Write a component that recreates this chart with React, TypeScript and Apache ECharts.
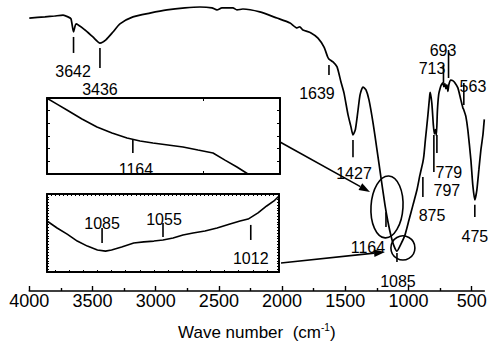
import React, { useEffect, useRef } from "react";
import * as echarts from "echarts";

const FONT = "'Liberation Sans', Arial, sans-serif";

// Main FTIR spectrum: wavenumber (cm-1) and transmittance (a.u.)
const mainWn = [4000, 3876, 3800, 3733, 3694, 3670, 3650, 3630, 3559, 3497, 3441, 3394, 3338, 3283, 3180, 3046, 2911, 2769, 2650, 2555, 2515, 2476, 2389, 2357, 2310, 2176, 2041, 1937, 1882, 1860, 1835, 1771, 1716, 1668, 1640, 1629, 1597, 1565, 1534, 1510, 1478, 1455, 1439, 1420, 1399, 1383, 1360, 1336, 1312, 1280, 1249, 1217, 1186, 1162, 1138, 1115, 1091, 1059, 1028, 996, 964, 933, 909, 886, 878, 866, 846, 831, 828, 815, 803, 795, 787, 779, 771, 761, 751, 740, 728, 720, 712, 704, 696, 688, 680, 665, 650, 633, 609, 585, 570, 562, 546, 530, 506, 491, 475, 459, 443, 427, 411, 404, 400];
const mainT = [93.8, 94.2, 94.5, 94.8, 94.2, 93.5, 89.0, 91.8, 89.7, 87.3, 85.2, 86.3, 89.0, 91.8, 94.2, 95.5, 96.6, 97.3, 97.6, 97.3, 96.6, 97.3, 97.3, 96.6, 96.9, 95.9, 93.8, 92.1, 90.4, 90.8, 89.7, 88.7, 86.9, 83.8, 80.5, 79.7, 78.7, 77.0, 71.8, 68.0, 60.5, 56.4, 53.6, 55.5, 62.2, 67.4, 70.1, 69.1, 65.6, 57.7, 48.5, 38.8, 29.6, 23.7, 18.9, 15.5, 13.7, 16.2, 19.2, 24.4, 29.6, 34.7, 39.9, 44.3, 46.5, 52.0, 60.5, 67.6, 68.3, 64.5, 57.0, 54.0, 55.5, 53.5, 62.0, 67.5, 69.4, 70.8, 71.5, 70.2, 71.3, 69.5, 70.8, 68.6, 71.0, 72.5, 72.3, 71.6, 69.8, 65.6, 63.0, 62.2, 60.0, 55.3, 45.0, 36.4, 31.3, 34.7, 41.6, 48.5, 53.6, 57.0, 59.0];

// Inset 1 (around 1164 cm-1)
const inset1Wn = [1220, 1213.5, 1207, 1197.2, 1187.4, 1177.6, 1167.8, 1159.3, 1150.9, 1141.1, 1131.3, 1121.5, 1111.7, 1103.9, 1096.1, 1088.9, 1084];
const inset1V = [5.98, 5.52, 5.05, 4.34, 3.71, 3.24, 2.84, 2.6, 2.45, 2.29, 2.13, 1.89, 1.66, 1.1, 0.55, 0.0, -0.5];

// Inset 2 (around 1085 cm-1)
const inset2Wn = [1112, 1107, 1102, 1097, 1092, 1087, 1083, 1080, 1075, 1069, 1064, 1059, 1054.5, 1049.5, 1044.6, 1039.6, 1033.7, 1027.7, 1021.3, 1016.3, 1012.3, 1007.4, 1003.1, 999.5, 997];
const inset2V = [18.3, 15.8, 13.6, 11.1, 9.3, 7.9, 7.5, 7.9, 9.0, 10.4, 10.8, 11.1, 11.5, 12.2, 13.3, 14.0, 14.7, 15.8, 17.2, 18.3, 19.0, 21.2, 23.7, 25.5, 27.3];

// Tick labels
const majorTicks = [4000, 3500, 3000, 2500, 2000, 1500, 1000, 500];
const minorTicks = [3750, 3250, 2750, 2250, 1750, 1250, 750];

// Peak annotations: label, tick wavenumber, tick top, tick bottom, label wavenumber, label level
const mainPeakLabels = ["3642", "3436", "1639", "1427", "1164", "1085", "875", "797", "779", "713", "693", "563", "475"];
const mainPeakTickWn = [3650, 3441, 1629, 1439, 1178, 1091, 886, 799, 775, 723, 683, 562, 475];
const mainPeakTickTop = [87.3, 83.5, 77.7, 51.9, 27.1, 13.1, 39.2, 53.6, 53.6, 77.7, 82.8, 71.5, 29.6];
const mainPeakTickBot = [81.8, 76.6, 74.2, 46.0, 22.0, 10.0, 32.3, 40.9, 47.4, 71.5, 73.2, 63.9, 25.4];
const mainPeakLabelWn = [3654, 3441, 1724, 1431, 1321, 1083, 814, 696, 680, 814, 727, 490, 475];
const mainPeakLabelT = [75.3, 69.4, 68.0, 40.5, 14.8, 3.4, 26.1, 34.7, 40.7, 76.3, 82.5, 70.4, 18.9];

const inset1Labels = ["1164"];
const inset1TickWn = [1164];
const inset1TickTop = [2.68];
const inset1TickBot = [1.66];
const inset1LabelWn = [1162];
const inset1LabelV = [0.32];

const inset2Labels = ["1085", "1055", "1012"];
const inset2TickWn = [1084.7, 1054.5, 1011];
const inset2TickTop = [15.8, 17.6, 16.9];
const inset2TickBot = [10.4, 12.6, 11.5];
const inset2LabelWn = [1084.7, 1054, 1011];
const inset2LabelV = [17.4, 18.7, 4.85];

// Highlighted regions in the main spectrum (ellipse around 1164, circle around 1085)
const ellipseCenter = [1170, 28.9];
const circleCenter = [1044, 14.8];

const inset1XTicks = [1118];
const inset2BottomTicks = [1108, 1101, 1094, 1087, 1080, 1073, 1066, 1059, 1052, 1045, 1038, 1031, 1024, 1017, 1010, 1003];
const inset2TopTicks = [1110, 1108, 1106, 1104, 1102, 1100, 1098, 1096, 1094, 1092, 1090, 1088, 1086, 1084, 1082, 1080, 1078, 1076, 1074, 1072, 1070, 1068, 1066, 1064, 1062, 1060, 1058, 1056, 1054, 1052, 1050, 1048, 1046, 1044, 1042, 1040, 1038, 1036, 1034, 1032, 1030, 1028, 1026, 1024, 1022, 1020, 1018, 1016, 1014, 1012, 1010, 1008, 1006, 1004, 1002, 1000];

function zip(a: number[], b: number[]) {
  return a.map((v, i) => [v, b[i]]);
}

function annoData(w: number[], t1: number[], t2: number[], lw: number[], lt: number[]) {
  return w.map((v, i) => [v, t1[i], t2[i], lw[i], lt[i]]);
}

function annoRender(texts: string[]) {
  return (params: any, api: any) => {
    const i = params.dataIndex;
    const p1 = api.coord([api.value(0), api.value(1)]);
    const p2 = api.coord([api.value(0), api.value(2)]);
    const pl = api.coord([api.value(3), api.value(4)]);
    return {
      type: "group",
      children: [
        {
          type: "line",
          shape: { x1: p1[0], y1: p1[1], x2: p2[0], y2: p2[1] },
          style: { stroke: "#000", lineWidth: 1.6 },
        },
        {
          type: "text",
          x: pl[0],
          y: pl[1],
          style: {
            text: texts[i],
            fill: "#000",
            fontSize: 16,
            fontFamily: FONT,
            align: "center",
            verticalAlign: "middle",
            textAlign: "center",
            textVerticalAlign: "middle",
          },
        },
      ],
    };
  };
}

const insetXAxis = (grid: number, min: number, max: number, pos: string, ticks: number[], len: number) => ({
  type: "value",
  gridIndex: grid,
  min,
  max,
  inverse: true,
  position: pos,
  axisLine: { show: true, onZero: false, lineStyle: { color: "#000", width: 2 } },
  axisTick: { show: true, inside: true, length: len, customValues: ticks, lineStyle: { color: "#000", width: 1 } },
  axisLabel: { show: false },
  splitLine: { show: false },
});

const insetYAxis = (grid: number, max: number, pos: string, len: number) => ({
  type: "value",
  gridIndex: grid,
  min: 0,
  max,
  interval: 1,
  position: pos,
  axisLine: { show: true, onZero: false, lineStyle: { color: "#000", width: 2 } },
  axisTick: { show: true, inside: true, length: len, lineStyle: { color: "#000", width: 1 } },
  axisLabel: { show: false },
  splitLine: { show: false },
});

function arrow(x1: number, y1: number, x2: number, y2: number) {
  const dx = x2 - x1;
  const dy = y2 - y1;
  const len = Math.sqrt(dx * dx + dy * dy);
  const ux = dx / len;
  const uy = dy / len;
  const hl = 11;
  const hw = 3.8;
  const bx = x2 - ux * hl;
  const by = y2 - uy * hl;
  return [
    { type: "line", shape: { x1, y1, x2: bx, y2: by }, style: { stroke: "#000", lineWidth: 1.6 } },
    {
      type: "polygon",
      shape: { points: [[x2, y2], [bx - uy * hw, by + ux * hw], [bx + uy * hw, by - ux * hw]] },
      style: { fill: "#000" },
    },
  ];
}

export default function App() {
  const ref = useRef<HTMLDivElement>(null);
  useEffect(() => {
    if (!ref.current) return;
    const chart = echarts.init(ref.current, undefined, { renderer: "svg" });
    const option: any = {
      animation: false,
      backgroundColor: "#fff",
      grid: [
        { left: 29.3, right: 3.7, top: 0, height: 291, outerBoundsMode: "none", containLabel: false },
        { left: 47, top: 98, width: 233, height: 76, outerBoundsMode: "none", containLabel: false },
        { left: 47, top: 194, width: 232, height: 78, outerBoundsMode: "none", containLabel: false },
      ],
      xAxis: [
        {
          type: "value",
          gridIndex: 0,
          min: 400,
          max: 4000,
          inverse: true,
          position: "bottom",
          axisLine: { show: true, onZero: false, lineStyle: { color: "#000", width: 1.6 } },
          axisTick: { show: true, inside: true, length: 5, customValues: majorTicks, lineStyle: { color: "#000", width: 1.4 } },
          axisLabel: {
            customValues: majorTicks,
            color: "#000",
            fontSize: 18,
            fontFamily: FONT,
            margin: 1,
            formatter: (v: number) => String(v),
          },
          splitLine: { show: false },
          name: "{a|Wave number  (cm}{s|-1}{a|)}",
          nameLocation: "middle",
          nameGap: 31,
          nameTextStyle: {
            color: "#000",
            fontSize: 17,
            fontFamily: FONT,
            rich: {
              a: { fontSize: 17, fontFamily: FONT, color: "#000", lineHeight: 20 },
              s: { fontSize: 10, fontFamily: FONT, color: "#000", verticalAlign: "top", lineHeight: 10 },
            },
          },
        },
        {
          type: "value",
          gridIndex: 0,
          min: 400,
          max: 4000,
          inverse: true,
          position: "bottom",
          axisLine: { show: false },
          axisTick: { show: true, inside: true, length: 3, customValues: minorTicks, lineStyle: { color: "#000", width: 1.4 } },
          axisLabel: { show: false },
          splitLine: { show: false },
        },
        insetXAxis(1, 1068, 1220, "bottom", inset1XTicks, 3),
        insetXAxis(1, 1068, 1220, "top", inset1XTicks, 3),
        insetXAxis(2, 997, 1112, "bottom", inset2BottomTicks, 2),
        insetXAxis(2, 997, 1112, "top", inset2TopTicks, 2),
      ],
      yAxis: [
        { type: "value", gridIndex: 0, min: 0, max: 100, show: false },
        insetYAxis(1, 6, "left", 3),
        insetYAxis(1, 6, "right", 3),
        insetYAxis(2, 28, "left", 2),
        insetYAxis(2, 28, "right", 2),
      ],
      series: [
        {
          type: "line",
          xAxisIndex: 0,
          yAxisIndex: 0,
          data: zip(mainWn, mainT),
          showSymbol: false,
          symbol: "none",
          smooth: 0.2,
          lineStyle: { color: "#000", width: 1.7 },
        },
        {
          type: "custom",
          xAxisIndex: 0,
          yAxisIndex: 0,
          data: annoData(mainPeakTickWn, mainPeakTickTop, mainPeakTickBot, mainPeakLabelWn, mainPeakLabelT),
          renderItem: annoRender(mainPeakLabels),
          clip: false,
        },
        {
          type: "custom",
          xAxisIndex: 0,
          yAxisIndex: 0,
          data: [ellipseCenter, circleCenter],
          clip: false,
          renderItem: (params: any, api: any) => {
            const p = api.coord([api.value(0), api.value(1)]);
            if (params.dataIndex === 0) {
              return {
                type: "ellipse",
                x: p[0],
                y: p[1],
                rotation: -0.06,
                shape: { cx: 0, cy: 0, rx: 16, ry: 31 },
                style: { fill: "none", stroke: "#000", lineWidth: 1.6 },
              };
            }
            return {
              type: "circle",
              shape: { cx: p[0], cy: p[1], r: 12 },
              style: { fill: "none", stroke: "#000", lineWidth: 1.6 },
            };
          },
        },
        {
          type: "line",
          xAxisIndex: 2,
          yAxisIndex: 1,
          data: zip(inset1Wn, inset1V),
          showSymbol: false,
          symbol: "none",
          clip: true,
          lineStyle: { color: "#000", width: 1.6 },
        },
        {
          type: "custom",
          xAxisIndex: 2,
          yAxisIndex: 1,
          data: annoData(inset1TickWn, inset1TickTop, inset1TickBot, inset1LabelWn, inset1LabelV),
          renderItem: annoRender(inset1Labels),
          clip: false,
        },
        {
          type: "line",
          xAxisIndex: 4,
          yAxisIndex: 3,
          data: zip(inset2Wn, inset2V),
          showSymbol: false,
          symbol: "none",
          clip: true,
          lineStyle: { color: "#000", width: 1.6 },
        },
        {
          type: "custom",
          xAxisIndex: 4,
          yAxisIndex: 3,
          data: annoData(inset2TickWn, inset2TickTop, inset2TickBot, inset2LabelWn, inset2LabelV),
          renderItem: annoRender(inset2Labels),
          clip: false,
        },
      ],
      graphic: [...arrow(280, 142, 370, 192), ...arrow(281, 263, 385, 252)],
    };
    chart.setOption(option);
    return () => chart.dispose();
  }, []);
  return (
    <div
      ref={ref}
      style={{ position: "fixed", left: 0, top: 0, width: 488, height: 343, background: "#fff" }}
    />
  );
}
